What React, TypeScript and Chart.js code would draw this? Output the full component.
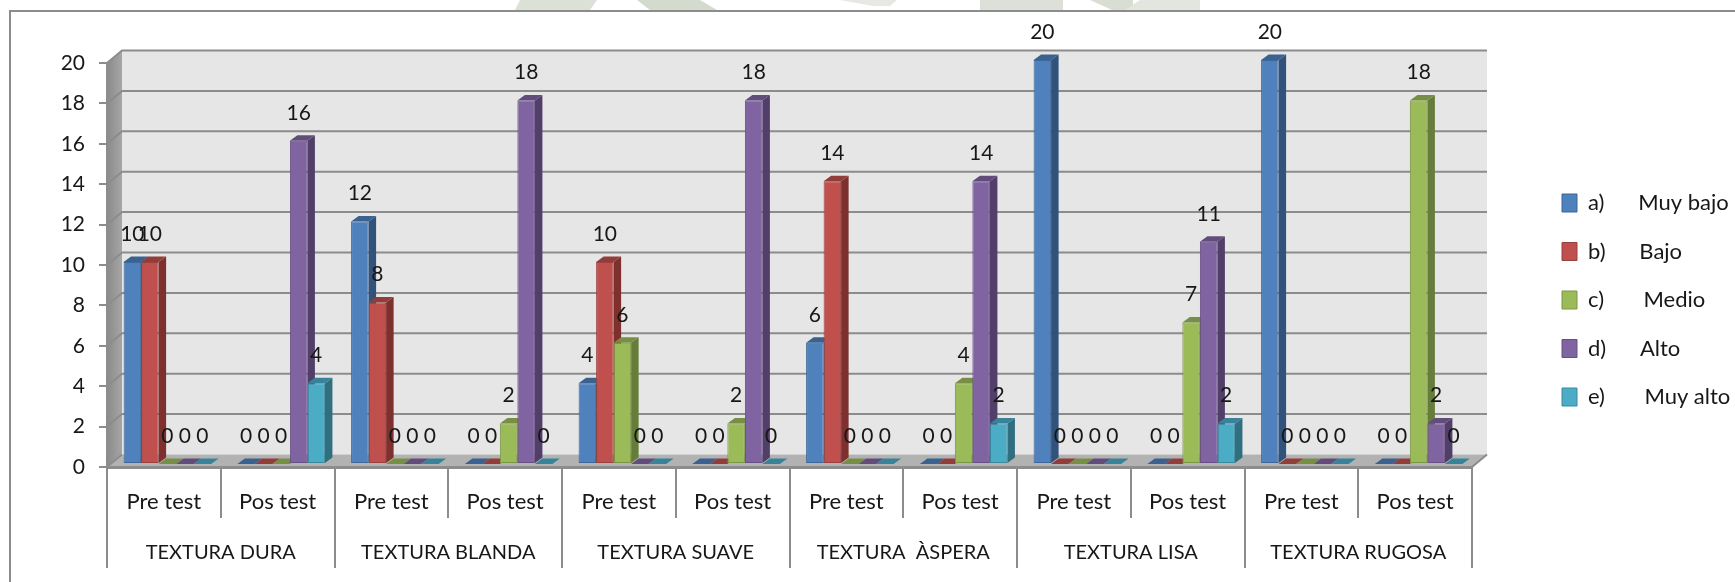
import React, { useEffect, useRef } from "react";
import { Chart, registerables } from "chart.js";

Chart.register(...registerables);

const testLabels = ["Pre test", "Pos test", "Pre test", "Pos test", "Pre test", "Pos test", "Pre test", "Pos test", "Pre test", "Pos test", "Pre test", "Pos test"];
const groupLabels = ["TEXTURA DURA", "TEXTURA BLANDA", "TEXTURA SUAVE", "TEXTURA  ÀSPERA", "TEXTURA LISA", "TEXTURA RUGOSA"];

const muyBajo = [10, 0, 12, 0, 4, 0, 6, 0, 20, 0, 20, 0];
const bajo = [10, 0, 8, 0, 10, 0, 14, 0, 0, 0, 0, 0];
const medio = [0, 0, 0, 2, 6, 2, 0, 4, 0, 7, 0, 18];
const alto = [0, 16, 0, 18, 0, 18, 0, 14, 0, 11, 0, 2];
const muyAlto = [0, 4, 0, 0, 0, 0, 0, 2, 0, 2, 0, 0];

const seriesNames = ["a)      Muy bajo", "b)      Bajo", "c)       Medio", "d)      Alto", "e)       Muy alto"];
const seriesValues = [muyBajo, bajo, medio, alto, muyAlto];
const frontColors = ["#4f81bd", "#c0504d", "#9bbb59", "#8064a2", "#4bacc6"];
const edgeColors = ["#3f6797", "#9a403e", "#7c9647", "#664f82", "#3c899e"];
const topColors = ["#3a6190", "#933d3b", "#768f44", "#614c7c", "#39839a"];
const sideColors = ["#31527a", "#7e302e", "#667d3a", "#513e69", "#2f6f80"];

const LINE = "#8c8c8c";
const TEXT = "#171717";
const FONT = "Lato";

// 3D look: how far the walls and bars sit behind the front plane of the axes
const WALL_DX = 15;
const WALL_DY = -12.5;
const BAR_DX = 3.5;
const BAR_DY = -3;
const SIDE_DX = 7.5;
const SIDE_DY = -5.5;
const LABEL_GAP = 28;

// the faint page watermark cut off above the frame
const watermark: [string, number[]][] = [
  ["#dbe1d6", [520, 0, 597, 0, 590, 10, 515, 10]],
  ["#d3dbce", [637, 0, 700, 0, 717, 10, 650, 10]],
  ["#e6e9e3", [840, 0, 897, 0, 890, 6, 873, 6]],
  ["#dcE0d8", [980, 0, 1063, 0, 1063, 10, 980, 10]],
  ["#d8ded3", [1090, 0, 1133, 0, 1133, 10, 1112, 10]],
  ["#e2e6de", [1140, 0, 1200, 0, 1200, 10, 1125, 10]],
];

const threeD = {
  id: "threeD",
  beforeLayout(chart: any) {
    const legend = chart.legend;
    if (legend && !legend.__fixed) {
      const fit = legend.fit.bind(legend);
      legend.fit = () => {
        fit();
        legend.width = 263;
      };
      legend.__fixed = true;
    }
  },
  afterLayout(chart: any) {
    const legend = chart.legend;
    if (legend) {
      legend.left = 1535.5;
      legend.top = 165.5;
    }
  },
  beforeDraw(chart: any) {
    const { ctx } = chart;
    const { left, right, top, bottom } = chart.chartArea;
    const yScale = chart.scales.y;
    ctx.save();

    watermark.forEach(([color, p]) => {
      ctx.fillStyle = color;
      ctx.beginPath();
      ctx.moveTo(p[0], p[1]);
      for (let k = 2; k < p.length; k += 2) ctx.lineTo(p[k], p[k + 1]);
      ctx.closePath();
      ctx.fill();
    });

    // outer frame
    ctx.strokeStyle = LINE;
    ctx.lineWidth = 2;
    ctx.beginPath();
    ctx.moveTo(10, chart.height);
    ctx.lineTo(10, 11);
    ctx.lineTo(chart.width, 11);
    ctx.stroke();

    // back wall
    ctx.fillStyle = "#e6e6e6";
    ctx.fillRect(left + WALL_DX, top + WALL_DY, right - left, bottom - top);

    // side wall
    const grad = ctx.createLinearGradient(left, 0, left + WALL_DX, 0);
    grad.addColorStop(0, "#8a8a8a");
    grad.addColorStop(1, "#a6a6a6");
    ctx.fillStyle = grad;
    ctx.beginPath();
    ctx.moveTo(left, bottom);
    ctx.lineTo(left + WALL_DX, bottom + WALL_DY);
    ctx.lineTo(left + WALL_DX, top + WALL_DY);
    ctx.lineTo(left, top);
    ctx.closePath();
    ctx.fill();

    // floor
    ctx.fillStyle = "#b2b2b2";
    ctx.beginPath();
    ctx.moveTo(left, bottom);
    ctx.lineTo(right, bottom);
    ctx.lineTo(right + WALL_DX, bottom + WALL_DY);
    ctx.lineTo(left + WALL_DX, bottom + WALL_DY);
    ctx.closePath();
    ctx.fill();

    // gridlines on both walls
    ctx.strokeStyle = LINE;
    ctx.lineWidth = 2;
    yScale.ticks.forEach((t: any) => {
      const y = yScale.getPixelForValue(t.value);
      ctx.beginPath();
      ctx.moveTo(left, y);
      ctx.lineTo(left + WALL_DX, y + WALL_DY);
      if (t.value !== 0) ctx.lineTo(right + WALL_DX, y + WALL_DY);
      ctx.stroke();
    });
    ctx.beginPath();
    ctx.moveTo(right, bottom);
    ctx.lineTo(right + WALL_DX, bottom + WALL_DY);
    ctx.stroke();
    ctx.restore();
  },
  beforeDatasetsDraw(chart: any) {
    const { ctx } = chart;
    ctx.save();
    ctx.translate(BAR_DX, BAR_DY);
    chart.data.datasets.forEach((_: any, i: number) => {
      chart.getDatasetMeta(i).data.forEach((bar: any) => {
        const x0 = bar.x - bar.width / 2;
        const x1 = bar.x + bar.width / 2;
        ctx.fillStyle = sideColors[i];
        ctx.beginPath();
        ctx.moveTo(x1, bar.y);
        ctx.lineTo(x1 + SIDE_DX, bar.y + SIDE_DY);
        ctx.lineTo(x1 + SIDE_DX, bar.base + SIDE_DY);
        ctx.lineTo(x1, bar.base);
        ctx.closePath();
        ctx.fill();
        ctx.fillStyle = topColors[i];
        ctx.beginPath();
        ctx.moveTo(x0, bar.y);
        ctx.lineTo(x0 + SIDE_DX, bar.y + SIDE_DY);
        ctx.lineTo(x1 + SIDE_DX, bar.y + SIDE_DY);
        ctx.lineTo(x1, bar.y);
        ctx.closePath();
        ctx.fill();
      });
    });
    // the fronts drawn next by Chart.js share this offset; restored in afterDatasetsDraw
  },
  afterDatasetsDraw(chart: any) {
    const { ctx } = chart;
    ctx.restore();
    ctx.save();
    ctx.fillStyle = TEXT;
    ctx.font = `21px ${FONT}`;
    ctx.textAlign = "center";
    ctx.textBaseline = "middle";
    chart.data.datasets.forEach((ds: any, i: number) => {
      chart.getDatasetMeta(i).data.forEach((bar: any, j: number) => {
        ctx.fillText(String(ds.data[j]), bar.x + BAR_DX, bar.y + BAR_DY - LABEL_GAP);
      });
    });
    ctx.restore();
  },
};

export default function App() {
  const ref = useRef<HTMLCanvasElement>(null);

  useEffect(() => {
    document.body.style.margin = "0";
    document.body.style.overflow = "hidden";
    const chart = new Chart(ref.current as HTMLCanvasElement, {
      type: "bar",
      data: {
        labels: testLabels,
        datasets: seriesValues.map((values, i) => ({
          label: seriesNames[i],
          data: values,
          backgroundColor: frontColors[i],
          borderColor: edgeColors[i],
          borderWidth: 1,
          borderSkipped: false,
          categoryPercentage: 0.77,
          barPercentage: 1,
        })),
      },
      options: {
        animation: false,
        responsive: false,
        devicePixelRatio: 1,
        layout: { padding: { left: 0, right: 0, top: 63, bottom: 14 } },
        font: { family: FONT },
        scales: {
          y: {
            min: 0,
            max: 20,
            border: { display: true, color: LINE, width: 2 },
            grid: { drawOnChartArea: false, drawTicks: true, tickLength: 8, color: LINE, lineWidth: 2 },
            ticks: { stepSize: 2, padding: 14, color: TEXT, font: { family: FONT, size: 21 } },
            afterFit(scale: any) {
              scale.width = 107;
            },
          },
          x: {
            offset: true,
            border: { display: true, color: LINE, width: 3 },
            grid: { offset: true, drawOnChartArea: false, drawTicks: true, tickLength: 51, color: LINE, lineWidth: 2 },
            ticks: { autoSkip: false, maxRotation: 0, padding: -29, color: TEXT, font: { family: FONT, size: 22 } },
            afterFit(scale: any) {
              scale.height = 51;
            },
          },
          x2: {
            axis: "x",
            type: "category",
            position: "bottom",
            labels: groupLabels,
            offset: true,
            border: { display: false },
            grid: { offset: true, drawOnChartArea: false, drawTicks: true, tickLength: 50, color: LINE, lineWidth: 2 },
            ticks: { autoSkip: false, maxRotation: 0, padding: -27, color: TEXT, font: { family: FONT, size: 20 } },
            afterFit(scale: any) {
              scale.height = 50;
            },
          },
        },
        plugins: {
          tooltip: { enabled: false },
          legend: {
            display: true,
            position: "right",
            align: "start",
            labels: {
              boxWidth: 15,
              boxHeight: 18,
              padding: 26.5,
              color: TEXT,
              font: { family: FONT, size: 22 },
            },
          },
        },
      } as any,
      plugins: [threeD],
    } as any);
    return () => chart.destroy();
  }, []);

  return <canvas ref={ref} width={1735} height={582} style={{ display: "block" }} />;
}
